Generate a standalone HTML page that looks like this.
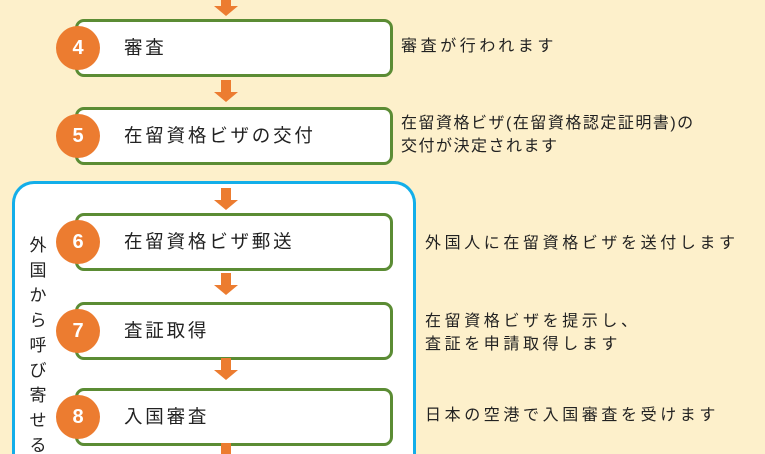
<!DOCTYPE html>
<html style="height:454px;overflow:hidden"><head><meta charset="utf-8"><style>
body{margin:0;width:765px;height:454px;background:#fdf0cb;position:relative;overflow:hidden;font-family:"Liberation Sans","Noto Sans CJK JP",sans-serif;color:#222}
.blue{position:absolute;left:12px;top:181px;width:398px;height:273px;border:3px solid #13aee9;border-bottom:none;border-radius:22px 22px 0 0;background:#fff;box-sizing:content-box}
.box{position:absolute;left:75px;width:312px;height:52px;border:3px solid #5b8c34;border-radius:9px;background:#fff;font-size:18.5px;line-height:52px;box-sizing:content-box}
.box span{position:absolute;left:46px;letter-spacing:2.8px;white-space:nowrap}
.c{position:absolute;left:-22px;top:4px;width:44px;height:44px;border-radius:50%;background:#ec7c30;color:#fff;font-weight:bold;font-size:20px;line-height:44px;text-align:center}
.t{position:absolute;font-size:16px;line-height:23px;letter-spacing:3.6px;white-space:nowrap}
.ar{position:absolute;left:217px;width:18px}
.ar i{display:block;margin:0 auto;width:10px;background:#ec7c30}
.ar b{display:block;width:0;height:0;border-left:12px solid transparent;border-right:12px solid transparent;border-top:10px solid #ec7c30;margin-left:-3px}
.v{position:absolute;left:27px;top:233px;width:22px;font-size:17px;line-height:25px;text-align:center;height:221px;overflow:hidden}
</style></head><body>
<div class="ar" style="top:0"><i style="height:6px"></i><b></b></div>
<div class="box" style="top:19px"><div class="c">4</div><span>審査</span></div>
<div class="t" style="left:401px;top:35px">審査が行われます</div>
<div class="ar" style="top:80px"><i style="height:12px"></i><b></b></div>
<div class="box" style="top:107px"><div class="c">5</div><span>在留資格ビザの交付</span></div>
<div class="t" style="left:401px;top:112px;letter-spacing:1.5px">在留資格ビザ(在留資格認定証明書)の<br>交付が決定されます</div>
<div class="blue"></div>
<div class="ar" style="top:188px"><i style="height:12px"></i><b></b></div>
<div class="box" style="top:213px"><div class="c">6</div><span>在留資格ビザ郵送</span></div>
<div class="t" style="left:425px;top:232px">外国人に在留資格ビザを送付します</div>
<div class="ar" style="top:273px"><i style="height:12px"></i><b></b></div>
<div class="box" style="top:302px"><div class="c">7</div><span>査証取得</span></div>
<div class="t" style="left:425px;top:310px">在留資格ビザを提示し、<br>査証を申請取得します</div>
<div class="ar" style="top:358px"><i style="height:12px"></i><b></b></div>
<div class="box" style="top:388px"><div class="c">8</div><span>入国審査</span></div>
<div class="t" style="left:425px;top:404px">日本の空港で入国審査を受けます</div>
<div class="ar" style="top:443px"><i style="height:11px"></i></div>
<div class="v">外<br>国<br>か<br>ら<br>呼<br>び<br>寄<br>せ<br>る</div>
</body></html>
